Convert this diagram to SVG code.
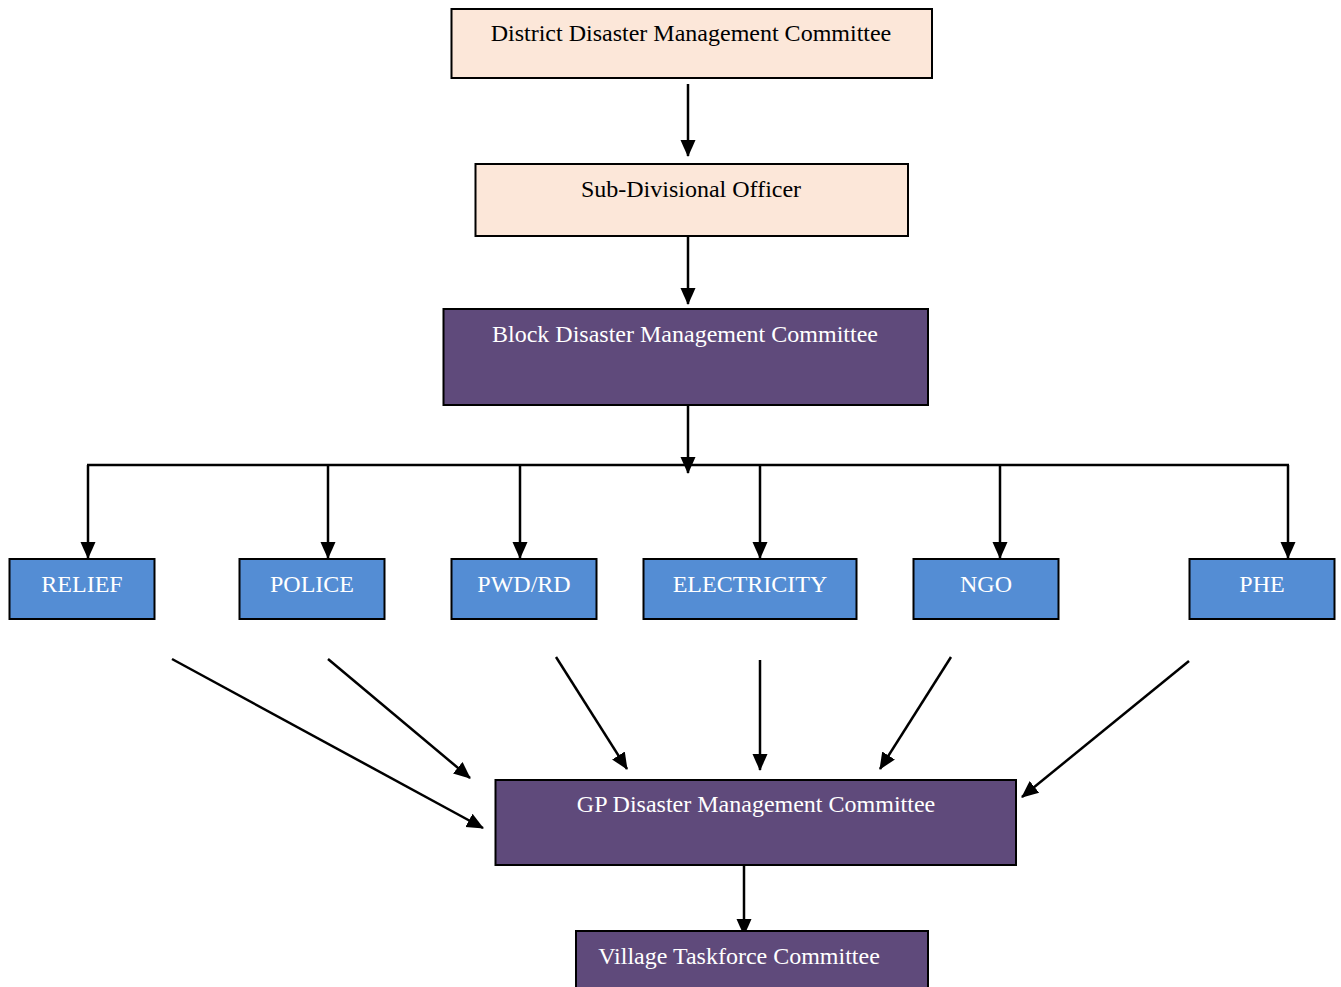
<svg xmlns="http://www.w3.org/2000/svg" width="1341" height="987" viewBox="0 0 1341 987">
<style>
text{font-family:"Liberation Serif","Times New Roman",serif;font-size:24px;text-anchor:middle}
.peach{fill:#fce7d9;stroke:#000;stroke-width:2}
.purple{fill:#5f4a7b;stroke:#000;stroke-width:2}
.blue{fill:#548dd4;stroke:#000;stroke-width:2}
.dark{fill:#000}
.light{fill:#fff}
.c{stroke:#000;stroke-width:2.5;fill:none}
.a{marker-end:url(#ah)}
</style>
<defs>
<marker id="ah" markerUnits="userSpaceOnUse" markerWidth="17" markerHeight="17" viewBox="0 0 17 17" refX="16" refY="8.5" orient="auto">
<path d="M0,1 L17,8.5 L0,16 Z" fill="#000"/>
</marker>
</defs>
<rect width="1341" height="987" fill="#fff"/>
<g id="connectors">
<line class="c a" x1="688" y1="84" x2="688" y2="156"/>
<line class="c a" x1="688" y1="232" x2="688" y2="304"/>
<line class="c a" x1="688" y1="401" x2="688" y2="473"/>
<line class="c" x1="87" y1="465" x2="1289" y2="465"/>
<line class="c a" x1="88" y1="465" x2="88" y2="558"/>
<line class="c a" x1="328" y1="465" x2="328" y2="558"/>
<line class="c a" x1="520" y1="465" x2="520" y2="558"/>
<line class="c a" x1="760" y1="465" x2="760" y2="558"/>
<line class="c a" x1="1000" y1="465" x2="1000" y2="558"/>
<line class="c a" x1="1288" y1="465" x2="1288" y2="558"/>
<line class="c a" x1="172" y1="659" x2="483" y2="828"/>
<line class="c a" x1="328" y1="659" x2="470" y2="778"/>
<line class="c a" x1="556" y1="657" x2="627" y2="769"/>
<line class="c a" x1="760" y1="660" x2="760" y2="770"/>
<line class="c a" x1="951" y1="657" x2="880" y2="769"/>
<line class="c a" x1="1189" y1="661" x2="1022" y2="797"/>
<line class="c a" x1="744" y1="865" x2="744" y2="935"/>
</g>
<g id="district"><rect class="peach" x="451.5" y="9" width="480.5" height="69"/><text class="dark" x="691" y="41">District Disaster Management Committee</text></g>
<g id="sdo"><rect class="peach" x="475.5" y="164" width="432.5" height="72"/><text class="dark" x="691" y="197">Sub-Divisional Officer</text></g>
<g id="block"><rect class="purple" x="443.5" y="309" width="484.5" height="96"/><text class="light" x="685" y="342">Block Disaster Management Committee</text></g>
<g id="relief"><rect class="blue" x="9.5" y="559" width="145" height="60"/><text class="light" x="82" y="592">RELIEF</text></g>
<g id="police"><rect class="blue" x="239.5" y="559" width="145" height="60"/><text class="light" x="312" y="592">POLICE</text></g>
<g id="pwdrd"><rect class="blue" x="451.5" y="559" width="145" height="60"/><text class="light" x="524" y="592">PWD/RD</text></g>
<g id="electricity"><rect class="blue" x="643.5" y="559" width="213" height="60"/><text class="light" x="750" y="592">ELECTRICITY</text></g>
<g id="ngo"><rect class="blue" x="913.5" y="559" width="145" height="60"/><text class="light" x="986" y="592">NGO</text></g>
<g id="phe"><rect class="blue" x="1189.5" y="559" width="145" height="60"/><text class="light" x="1262" y="592">PHE</text></g>
<g id="gp"><rect class="purple" x="495.5" y="780" width="520.5" height="85"/><text class="light" x="756" y="812">GP Disaster Management Committee</text></g>
<g id="village"><rect class="purple" x="576" y="931" width="352" height="70"/><text class="light" x="739" y="964">Village Taskforce Committee</text></g>
</svg>
